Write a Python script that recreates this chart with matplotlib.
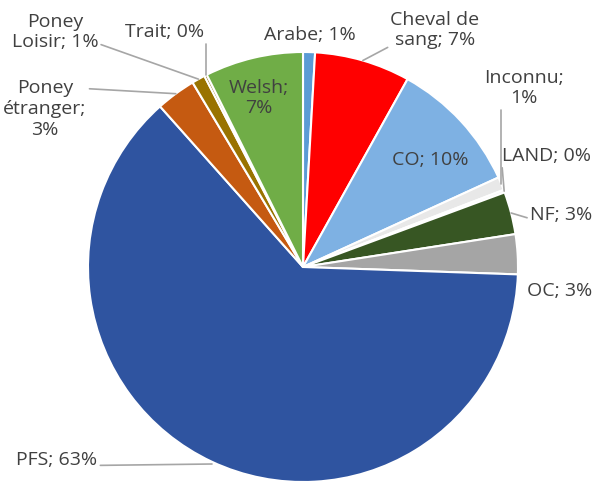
import numpy as np
import matplotlib.pyplot as plt

# breed shares (%), clockwise from 12 o'clock
races = ['Arabe', 'Cheval de sang', 'CO', 'Inconnu', 'LAND', 'NF', 'OC',
         'PFS', 'Poney étranger', 'Poney Loisir', 'Trait', 'Welsh']
parts = [0.9, 7.2, 10.1, 1.0, 0.2, 3.2, 3.0, 63.0, 3.0, 1.0, 0.2, 7.4]
couleurs = ['#5b9bd5', '#ff0000', '#7eb1e3', '#e8e8e8', '#f4f4f4', '#375623',
            '#a5a5a5', '#2f54a0', '#c55a11', '#997300', '#7f6000', '#70ad47']

W, H = 597, 483
plt.rcParams['font.family'] = ['Open Sans', 'DejaVu Sans']

fig = plt.figure(figsize=(W / 100, H / 100), dpi=100)
ax = fig.add_axes([0, 0, 1, 1])

cx, cy, R = 303, H - 267, 215
wedges, _ = ax.pie(parts, colors=couleurs, startangle=90, counterclock=False,
                   center=(cx, cy), radius=R, frame=True,
                   wedgeprops=dict(edgecolor='white', linewidth=1.5))
ax.set_xlim(0, W)
ax.set_ylim(0, H)
ax.set_aspect('equal')
ax.axis('off')

tot = sum(parts)
def label(i):
    return f'{races[i]}; {round(parts[i] * 100 / tot):.0f}%'

def point_on(i, r=1.0):
    w = wedges[i]
    a = np.deg2rad((w.theta1 + w.theta2) / 2)
    return (cx + R * r * np.cos(a), cy + R * r * np.sin(a))

txt = dict(fontsize=14, color='#404040')
ls = 1.2
line = dict(arrowstyle='-', color='#a6a6a6', lw=1.2, shrinkA=0, shrinkB=0)

def P(x, y):
    return (x, H - y)

# inside labels
ax.text(*P(259, 98), 'Welsh;\n7%', ha='center', va='center', linespacing=ls, **txt)
ax.text(*P(430, 160), 'CO; 10%', ha='center', va='center', **txt)

# outside labels
ax.text(*P(310, 35), label(0), ha='center', va='center', **txt)
ax.annotate('Cheval de\nsang; 7%', xy=point_on(1), xytext=P(435, 30),
            ha='center', va='center', linespacing=ls,
            arrowprops=dict(line, relpos=(0.05, 0.15)), **txt)
ax.annotate('Inconnu;\n1%', xy=point_on(3), xytext=P(524, 88),
            ha='center', va='center', linespacing=ls,
            arrowprops=dict(line, connectionstyle='angle,angleA=0,angleB=90,rad=0',
                            relpos=(0.3, 0.1)), **txt)
ax.annotate(label(4), xy=point_on(4), xytext=P(546, 156),
            ha='center', va='center',
            arrowprops=dict(line, relpos=(0.0, 0.3)), **txt)
ax.annotate(label(5), xy=point_on(5), xytext=P(561, 215),
            ha='center', va='center',
            arrowprops=dict(line, relpos=(0.0, 0.3)), **txt)
ax.text(*P(560, 291), label(6), ha='center', va='center', **txt)
ax.annotate(label(7), xy=P(212, 464), xytext=P(57, 460),
            ha='center', va='center',
            arrowprops=dict(line, relpos=(1.0, 0.2)), **txt)
ax.annotate('Poney\nétranger;\n3%', xy=point_on(8), xytext=P(45, 109),
            ha='center', va='center', linespacing=ls,
            arrowprops=dict(line, relpos=(0.9, 0.85)), **txt)
ax.annotate('Poney\nLoisir; 1%', xy=point_on(9), xytext=P(55, 32),
            ha='center', va='center', linespacing=ls,
            arrowprops=dict(line, relpos=(1.0, 0.2)), **txt)
ax.annotate(label(10), xy=point_on(10), xytext=P(165, 32),
            ha='center', va='center',
            arrowprops=dict(line, relpos=(1.0, 0.5),
                            connectionstyle='angle,angleA=0,angleB=90,rad=0'), **txt)

fig.savefig('out.png', dpi=100, facecolor='white')
